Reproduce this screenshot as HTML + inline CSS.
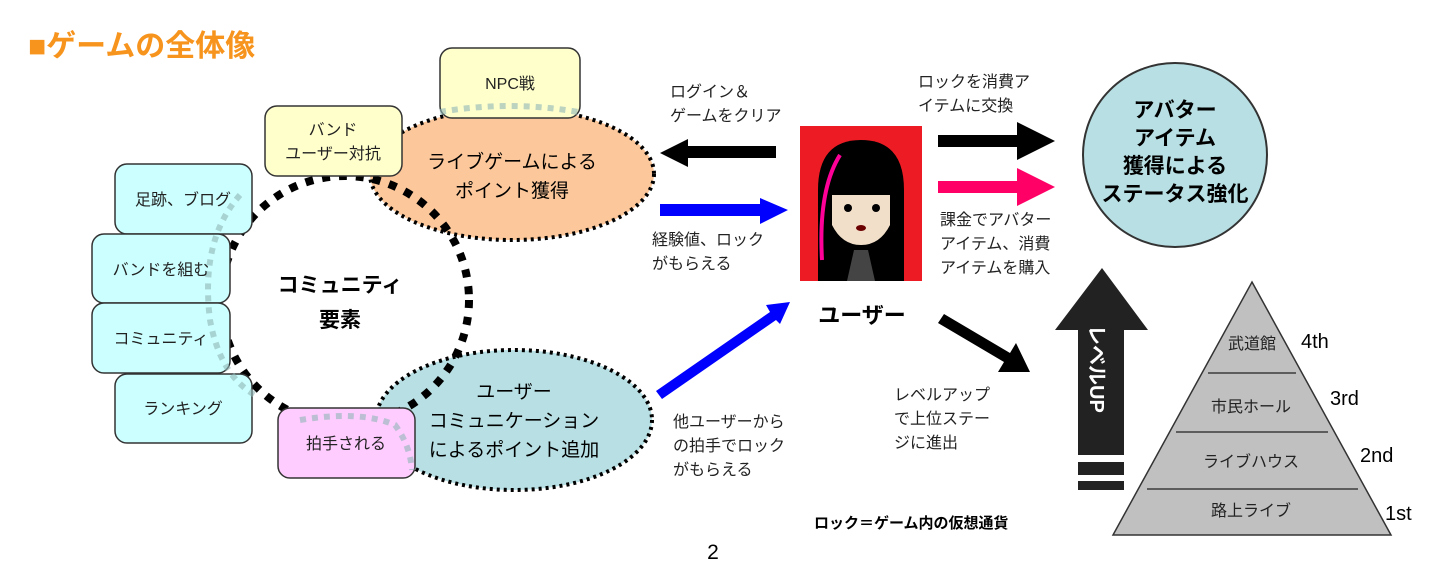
<!DOCTYPE html>
<html><head><meta charset="utf-8"><style>
html,body{margin:0;padding:0;background:#fff}
svg{display:block}
text{font-family:"Liberation Sans","Noto Sans CJK JP",sans-serif}
</style></head><body>
<svg width="1440" height="582" viewBox="0 0 1440 582" xmlns="http://www.w3.org/2000/svg">
<text x="28" y="56" font-size="30" font-weight="bold" fill="#f7941d">■ゲームの全体像</text>

<!-- ellipses -->
<ellipse cx="512" cy="174" rx="142" ry="66" fill="#fcc89b" stroke="#000" stroke-width="4" stroke-dasharray="3 4"/>
<ellipse cx="514" cy="420" rx="138" ry="70" fill="#b8dfe3" stroke="#000" stroke-width="4" stroke-dasharray="3 4"/>

<!-- community circle -->
<circle cx="345" cy="300" r="124" fill="none" stroke="#000" stroke-width="8" stroke-dasharray="8 9"/>

<!-- boxes -->
<g stroke="#333" stroke-width="1.5">
<rect x="440" y="48" width="140" height="70" rx="12" fill="#ffffcc"/>
<rect x="265" y="106" width="137" height="70" rx="12" fill="#ffffcc"/>
<rect x="115" y="164" width="137" height="70" rx="12" fill="#ccffff"/>
<rect x="92" y="234" width="138" height="69" rx="12" fill="#ccffff"/>
<rect x="92" y="303" width="138" height="70" rx="12" fill="#ccffff"/>
<rect x="115" y="374" width="137" height="69" rx="12" fill="#ccffff"/>
<rect x="278" y="408" width="137" height="70" rx="12" fill="#ffccff"/>
</g>

<!-- grey dotted loop -->
<path d="M440,112 Q510,100 578,112 M240,195 Q200,240 210,320 Q220,375 255,395 M300,420 Q360,410 395,425 Q410,445 412,470" fill="none" stroke="#8fb5b5" stroke-opacity="0.6" stroke-width="6" stroke-dasharray="6 6"/>

<g font-size="16" fill="#222" text-anchor="middle">
<text x="510" y="89">NPC戦</text>
<text x="333" y="135">バンド</text>
<text x="333" y="159">ユーザー対抗</text>
<text x="183" y="205">足跡、ブログ</text>
<text x="161" y="275">バンドを組む</text>
<text x="161" y="344">コミュニティ</text>
<text x="183" y="414">ランキング</text>
<text x="346" y="449">拍手される</text>
</g>
<g font-size="19" fill="#000" text-anchor="middle">
<text x="512" y="168">ライブゲームによる</text>
<text x="512" y="197">ポイント獲得</text>
<text x="514" y="398">ユーザー</text>
<text x="514" y="427">コミュニケーション</text>
<text x="514" y="456">によるポイント追加</text>
</g>
<g font-size="21" font-weight="bold" text-anchor="middle">
<text x="340" y="292">コミュニティ</text>
<text x="340" y="327">要素</text>
</g>

<!-- arrows -->
<polygon points="660,153 688,139 688,146 776,146 776,158 688,158 688,167" fill="#000"/>
<polygon points="660,204 760,204 760,198 788,210 760,224 760,216 660,216" fill="#0000ff"/>
<polygon points="656,391 770,312 766,305 790,302 780,324 776,320 662,399" fill="#0000ff"/>
<polygon points="938,135 1017,135 1017,122 1055,141 1017,160 1017,147 938,147" fill="#000"/>
<polygon points="938,181 1017,181 1017,168 1055,187 1017,206 1017,193 938,193" fill="#ff0066"/>
<polygon points="944,314 1010,353 1016,343 1030,372 998,372 1004,362 938,323" fill="#000"/>

<g font-size="16" fill="#222">
<text x="670" y="97">ログイン＆</text>
<text x="670" y="121">ゲームをクリア</text>
<text x="652" y="245">経験値、ロック</text>
<text x="652" y="269">がもらえる</text>
<text x="918" y="87">ロックを消費ア</text>
<text x="918" y="111">イテムに交換</text>
<text x="940" y="225">課金でアバター</text>
<text x="940" y="249">アイテム、消費</text>
<text x="940" y="273">アイテムを購入</text>
<text x="673" y="427">他ユーザーから</text>
<text x="673" y="451">の拍手でロック</text>
<text x="673" y="475">がもらえる</text>
<text x="894" y="400">レベルアップ</text>
<text x="894" y="424">で上位ステー</text>
<text x="894" y="448">ジに進出</text>
</g>

<!-- photo -->
<rect x="800" y="126" width="122" height="155" fill="#ed1c24"/>
<path d="M818,281 L818,190 Q818,140 861,140 Q904,140 904,190 L904,281 Z" fill="#000"/>
<path d="M822,260 Q818,190 840,155" stroke="#ff0099" stroke-width="4" fill="none"/>
<path d="M832,195 L890,195 L890,225 Q880,245 861,245 Q842,245 832,225 Z" fill="#f2dfc9"/>
<circle cx="848" cy="208" r="4" fill="#000"/><circle cx="876" cy="208" r="4" fill="#000"/>
<ellipse cx="861" cy="228" rx="5" ry="3" fill="#6b0000"/>
<polygon points="854,250 868,250 875,281 847,281" fill="#444"/>

<text x="862" y="323" font-size="22" font-weight="bold" text-anchor="middle">ユーザー</text>

<!-- avatar circle -->
<circle cx="1175" cy="155" r="92" fill="#b8dfe3" stroke="#333" stroke-width="2"/>
<g font-size="21" font-weight="bold" text-anchor="middle">
<text x="1175" y="117">アバター</text>
<text x="1175" y="145">アイテム</text>
<text x="1175" y="173">獲得による</text>
<text x="1175" y="201">ステータス強化</text>
</g>

<!-- level up arrow -->
<polygon points="1102,268 1148,330 1124,330 1124,455 1078,455 1078,330 1055,330" fill="#222"/>
<rect x="1078" y="462" width="46" height="13" fill="#222"/>
<rect x="1078" y="481" width="46" height="9" fill="#222"/>
<text transform="translate(1090,325) rotate(90)" font-size="20" fill="#fff" font-weight="bold">レベルUP</text>

<!-- pyramid -->
<polygon points="1252,282 1391,535 1113,535" fill="#c0c0c0" stroke="#333" stroke-width="1.5"/>
<line x1="1208" y1="373" x2="1296" y2="373" stroke="#222" stroke-width="1.2"/>
<line x1="1176" y1="432" x2="1328" y2="432" stroke="#222" stroke-width="1.2"/>
<line x1="1147" y1="489" x2="1358" y2="489" stroke="#222" stroke-width="1.2"/>
<g font-size="16" fill="#222" text-anchor="middle">
<text x="1252" y="349">武道館</text>
<text x="1251" y="412">市民ホール</text>
<text x="1251" y="467">ライブハウス</text>
<text x="1251" y="516">路上ライブ</text>
</g>
<g font-size="20" fill="#000">
<text x="1301" y="348">4th</text>
<text x="1330" y="405">3rd</text>
<text x="1360" y="462">2nd</text>
<text x="1385" y="520">1st</text>
</g>

<text x="814" y="528" font-size="15" font-weight="bold">ロック＝ゲーム内の仮想通貨</text>
<text x="713" y="559" font-size="21" text-anchor="middle">2</text>
</svg>
</body></html>
